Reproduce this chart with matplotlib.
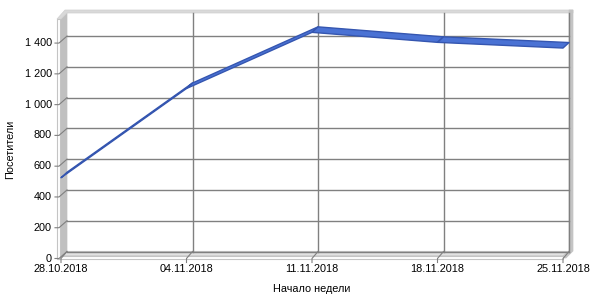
import matplotlib
matplotlib.use("Agg")
import matplotlib.pyplot as plt
from matplotlib.patches import Polygon, Rectangle

# ---- data ----
categories = ["28.10.2018", "04.11.2018", "11.11.2018", "18.11.2018", "25.11.2018"]
visitors = [515, 1095, 1460, 1395, 1358]
y_ticks = [0, 200, 400, 600, 800, 1000, 1200, 1400]
y_label = "Посетители"
x_label = "Начало недели"

plt.rcParams['font.family'] = ['Liberation Sans', 'DejaVu Sans']
FS = 7.8

W, H = 600, 300
fig = plt.figure(figsize=(6, 3), dpi=100)
fig.patch.set_facecolor('white')

def fx(x):
    return x / W

def fy(y):
    return 1 - y / H

def fpoly(pts, **kw):
    p = Polygon([(fx(x), fy(y)) for x, y in pts], closed=True,
                transform=fig.transFigure, **kw)
    fig.patches.append(p)
    return p

# back wall region
L, R, T, B = 67, 569, 13, 251.5
ax = fig.add_axes([fx(L), fy(B), (R - L) / W, (B - T) / H])
ax.set_xlim(-0.0, len(categories) - 1)
ax.set_ylim(0, 1550)
ax.axis('off')

px_x = (R - L) / (len(categories) - 1)   # pixels per x unit
px_y = (B - T) / 1550.0                 # pixels per y unit

def P(xd, yd, ox=0.0, oy=0.0):
    """data point shifted by ox px right, oy px down"""
    return (xd + ox / px_x, yd - oy / px_y)

# ---- 3D walls (layout decoration) ----
wall_dark = '#c0c0c0'
wall_light = '#e2e2e2'
edge = '#c4c4c4'
# floor
fpoly([(60, 256), (563, 256), (569, B), (L, B)], facecolor=wall_light,
      edgecolor=edge, lw=0.8, zorder=-2)
fig.patches.append(Rectangle((fx(57), fy(259)), (563 - 57) / W, 3 / H,
                             transform=fig.transFigure, facecolor='white',
                             edgecolor=edge, lw=0.8, zorder=-1))
# left side wall
fpoly([(60, 257), (60, 20), (L, T), (L, B)], facecolor=wall_dark,
      edgecolor=wall_dark, lw=0.5, zorder=-2)
fig.patches.append(Rectangle((fx(57), fy(259)), 3 / W, (259 - 19) / H,
                             transform=fig.transFigure, facecolor='white',
                             edgecolor=edge, lw=0.8, zorder=-1))
# top band
fpoly([(57, 19), (65, 10), (573, 10), (573, 13), (L, 13), (60, 20)],
      facecolor='#d9d9d9', edgecolor='#d0d0d0', lw=0.5, zorder=-2)
# right band
fpoly([(569, 10), (573, 10), (573, 251), (566, 258), (563, 258), (569, 251)],
      facecolor='#c4c4c4', edgecolor='#c4c4c4', lw=0.5, zorder=-2)

# ---- gridlines on back wall ----
grid_c = '#808080'
for v in y_ticks:
    ax.plot([0, len(categories) - 1], [v, v], color=grid_c, lw=1.0,
            zorder=1, clip_on=False)
for i in range(1, len(categories)):
    ax.plot([i, i], [0, 1550], color=grid_c, lw=1.0, zorder=1, clip_on=False)

DX, DY = -8, 7  # axis depth offset in px
# y ticks on side wall and front
for v in y_ticks:
    b = P(0, v)
    f = P(0, v, DX, DY)
    t = P(0, v, DX - 4, DY)
    ax.plot([b[0], f[0], t[0]], [b[1], f[1], t[1]], color=grid_c, lw=0.8,
            zorder=1, clip_on=False)
    lp = P(0, v, DX - 7, DY)
    ax.text(lp[0], lp[1], f"{v:,}".replace(",", " "), ha='right', va='center',
            fontsize=FS, color='black', clip_on=False)

# x ticks on floor and front
for i, lab in enumerate(categories):
    b = P(i, 0)
    f = P(i, 0, -6, DY)
    t = P(i, 0, -6, DY + 4)
    ax.plot([b[0], f[0], t[0]], [b[1], f[1], t[1]], color=grid_c, lw=0.8,
            zorder=1, clip_on=False)
    lp = P(i, 0, -6, DY + 6)
    ax.text(lp[0], lp[1], lab, ha='center', va='top', fontsize=FS,
            color='black', clip_on=False)

# ---- 3D ribbon line ----
RX, RY = -6, 5.5
face = '#4a72d4'
edgec = '#3556b0'
xs = list(range(len(categories)))
for i in range(len(xs) - 1):
    pts = [P(xs[i], visitors[i]), P(xs[i + 1], visitors[i + 1]),
           P(xs[i + 1], visitors[i + 1], RX, RY), P(xs[i], visitors[i], RX, RY)]
    ax.add_patch(Polygon(pts, closed=True, facecolor=face, edgecolor=edgec,
                         lw=1.0, zorder=5, clip_on=False, joinstyle='round'))

# axis titles
fig.text(fx(10), fy(149), y_label, rotation=90, ha='center', va='center',
         fontsize=FS)
fig.text(fx(312), fy(289), x_label, ha='center', va='center', fontsize=FS)

fig.savefig("out.png", dpi=100)
